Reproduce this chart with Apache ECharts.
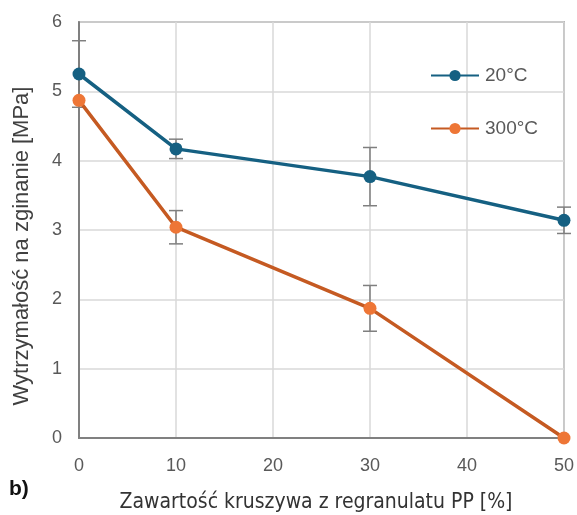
<!DOCTYPE html>
<html><head><meta charset="utf-8">
<script src="https://cdn.jsdelivr.net/npm/echarts@6/dist/echarts.min.js"></script>
<style>html,body{margin:0;padding:0;background:#fff}#c{width:577px;height:515px}</style>
</head><body><div id="c"></div>
<script>
const xValues = [0, 10, 30, 50];
const series20 = [5.25, 4.17, 3.77, 3.14];
const series300 = [4.87, 3.04, 1.87, 0.0];
const err20 = [0.48, 0.14, 0.42, 0.19];
const err300 = [0.0, 0.24, 0.33, 0.0];
const xTicks = [0, 10, 20, 30, 40, 50];
const yTicks = [0, 1, 2, 3, 4, 5, 6];
const seriesNames = ['20°C', '300°C'];
const xTitle = 'Zawartość kruszywa z regranulatu PP [%]';
const yTitle = 'Wytrzymałość na zginanie [MPa]';
const panelLabel = 'b)';

const chart = echarts.init(document.getElementById('c'), null, {renderer: 'canvas'});
function pts(ys){ return xValues.map((x,i)=>[x, ys[i]]); }
function errData(ys, es){ return xValues.map((x,i)=>[x, ys[i]-es[i], ys[i]+es[i]]).filter((d,i)=>es[i]>0); }
function errRender(params, api){
  const x = api.value(0), lo = api.value(1), hi = api.value(2);
  const pLo = api.coord([x, lo]), pHi = api.coord([x, hi]);
  const w = 7;
  const st = {stroke: '#7f7f7f', lineWidth: 1.5};
  return {type:'group', children:[
    {type:'line', shape:{x1:pLo[0], y1:pLo[1], x2:pHi[0], y2:pHi[1]}, style:st},
    {type:'line', shape:{x1:pLo[0]-w, y1:pLo[1], x2:pLo[0]+w, y2:pLo[1]}, style:st},
    {type:'line', shape:{x1:pHi[0]-w, y1:pHi[1], x2:pHi[0]+w, y2:pHi[1]}, style:st}
  ]};
}
const labelFont = {fontFamily:'Liberation Sans, Arial, sans-serif', fontSize:18, color:'#595959'};
chart.setOption({
  animation:false,
  grid:{left:79, right:12, top:22, bottom:77, show:true, borderColor:'#808080', borderWidth:1.5},
  legend:{
    data:seriesNames, orient:'vertical', left:425, top:61, itemWidth:48, itemHeight:14, itemGap:34,
    textStyle:{fontFamily:'Liberation Sans, Arial, sans-serif', fontSize:19, color:'#595959', padding:[0,0,0,1]}
  },
  xAxis:{type:'value', min:0, max:50, interval:10,
    axisLine:{show:true, lineStyle:{color:'#808080', width:2}}, axisTick:{show:false},
    axisLabel:Object.assign({margin:19, formatter:v=>xTicks.includes(v)?String(v):''}, labelFont),
    splitLine:{show:true, lineStyle:{color:'#d9d9d9', width:1.5}}},
  yAxis:{type:'value', min:0, max:6, interval:1,
    axisLine:{show:true, lineStyle:{color:'#808080', width:2}}, axisTick:{show:false},
    axisLabel:Object.assign({margin:17, formatter:v=>yTicks.includes(v)?String(v):''}, labelFont),
    splitLine:{show:true, lineStyle:{color:'#d9d9d9', width:1.5}}},
  graphic:[
    {type:'text', x:316, y:503, style:{text:xTitle, fontFamily:'Liberation Sans Narrow, DejaVu Sans Condensed, sans-serif', fontSize:21, fill:'#333', align:'center', verticalAlign:'middle'}},
    {type:'text', x:22, y:246, rotation:Math.PI/2, style:{text:yTitle, fontFamily:'Liberation Sans, Arial, sans-serif', fontSize:22, fill:'#404040', align:'center', verticalAlign:'middle'}},
    {type:'text', x:9, y:489, style:{text:panelLabel, fontFamily:'Liberation Sans Narrow, Liberation Sans, sans-serif', fontWeight:'bold', fontSize:21, fill:'#111', align:'left', verticalAlign:'middle'}}
  ],
  series:[
    {type:'custom', name:'err20', data:errData(series20, err20), renderItem:errRender, z:1, encode:{x:0, y:[1,2]}, silent:true},
    {type:'custom', name:'err300', data:errData(series300, err300), renderItem:errRender, z:1, encode:{x:0, y:[1,2]}, silent:true},
    {type:'line', name:seriesNames[0], data:pts(series20), symbol:'circle', symbolSize:13, z:3,
      lineStyle:{color:'#156082', width:3.5}, itemStyle:{color:'#156082'}},
    {type:'line', name:seriesNames[1], data:pts(series300), symbol:'circle', symbolSize:13, z:3,
      lineStyle:{color:'#c55a22', width:3.5}, itemStyle:{color:'#ee7636'}}
  ]
});
</script></body></html>
